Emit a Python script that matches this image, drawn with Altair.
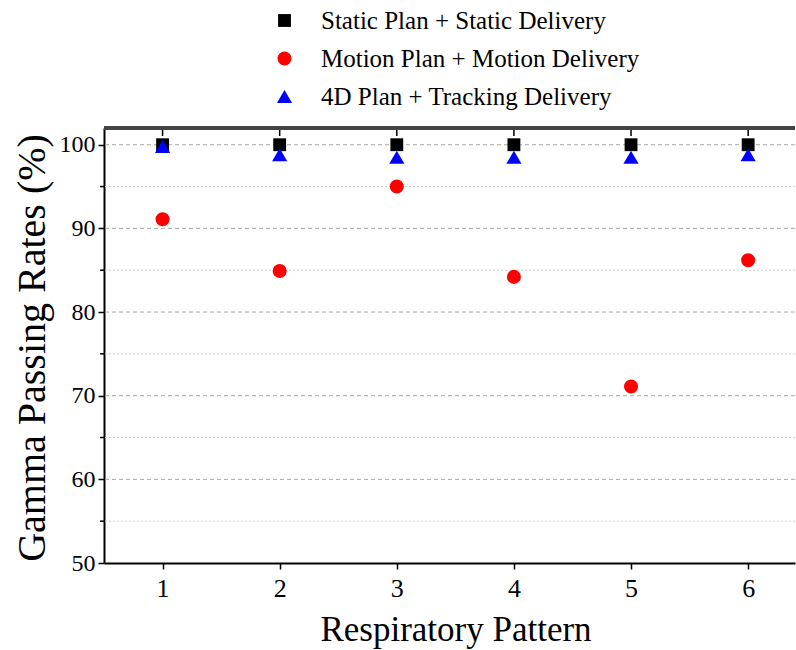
import altair as alt
import pandas as pd

# ---- data ----
patterns = [1, 2, 3, 4, 5, 6]
static_delivery = [100, 100, 100, 100, 100, 100]
motion_delivery = [91.1, 84.9, 95.0, 84.2, 71.1, 86.2]
tracking_delivery = [99.8, 98.8, 98.5, 98.5, 98.5, 98.8]

series_names = ["Static Plan + Static Delivery",
                "Motion Plan + Motion Delivery",
                "4D Plan + Tracking Delivery"]
series_shapes = ["square", "circle", "triangle-up"]
series_colors = ["black", "red", "blue"]

y_ticks = [50, 60, 70, 80, 90, 100]
major_grid = [60, 70, 80, 90, 100]
minor_grid = [55, 65, 75, 85, 95]

W, H = 691, 435
FONT = "Liberation Serif"

rows = []
for name, vals in zip(series_names, [static_delivery, motion_delivery, tracking_delivery]):
    for p, v in zip(patterns, vals):
        rows.append({"pattern": p, "rate": v, "series": name})
df = pd.DataFrame(rows)

xscale = alt.Scale(domain=[0.5, 6.4], nice=False, zero=False)
yscale = alt.Scale(domain=[50, 102], nice=False, zero=False)

xaxis = alt.Axis(values=patterns, format="d", title="Respiratory Pattern",
                 titleFontSize=35, titleFont=FONT, titleFontWeight="normal",
                 titleX=W / 2 + 6, titleY=77, titleBaseline="alphabetic",
                 labelFontSize=26, labelPadding=6)
yaxis = alt.Axis(values=y_ticks, format="d", title="Gamma Passing Rates (%)",
                 titleFontSize=40, titleFont=FONT, titleFontWeight="normal",
                 titleX=-52, titleY=H / 2 + 2, titleAngle=-90,
                 titleBaseline="bottom", titleAlign="center",
                 labelFontSize=24, labelPadding=3)

minor_df = pd.DataFrame({"v": minor_grid})
major_df = pd.DataFrame({"v": major_grid})
pat_df = pd.DataFrame({"pattern": patterns})

minor_lines = alt.Chart(minor_df).mark_rule(
    color="#cfcfcf", strokeWidth=1, strokeDash=[2, 2]
).encode(y=alt.Y("v:Q", scale=yscale, axis=yaxis, title="Gamma Passing Rates (%)"))

major_lines = alt.Chart(major_df).mark_rule(
    color="#a8a8a8", strokeWidth=1, strokeDash=[4, 3]
).encode(y=alt.Y("v:Q", scale=yscale, axis=yaxis, title="Gamma Passing Rates (%)"))

minor_ticks = alt.Chart(minor_df).mark_rule(color="black", strokeWidth=1.5).encode(
    y=alt.Y("v:Q", scale=yscale, axis=yaxis, title="Gamma Passing Rates (%)"),
    x=alt.value(-4), x2=alt.value(0),
)

top_border = alt.Chart(pat_df).mark_rule(color="#444444", strokeWidth=3).encode(
    x=alt.value(0), x2=alt.value(W), y=alt.value(0)
)

top_ticks = alt.Chart(pat_df).mark_rule(color="black", strokeWidth=1.5).encode(
    x=alt.X("pattern:Q", scale=xscale, axis=xaxis, title="Respiratory Pattern"),
    y=alt.value(0), y2=alt.value(8),
)

legend = alt.Legend(title=None, orient="none", legendX=168, legendY=-120)

points = alt.Chart(df).mark_point(filled=True, opacity=1, strokeWidth=0).encode(
    x=alt.X("pattern:Q", scale=xscale, axis=xaxis, title="Respiratory Pattern"),
    y=alt.Y("rate:Q", scale=yscale, axis=yaxis, title="Gamma Passing Rates (%)"),
    shape=alt.Shape("series:N", scale=alt.Scale(domain=series_names, range=series_shapes),
                    legend=legend),
    color=alt.Color("series:N", scale=alt.Scale(domain=series_names, range=series_colors),
                    legend=legend),
    size=alt.Size("series:N", scale=alt.Scale(domain=series_names, range=[165, 230, 290]),
                  legend=None),
    order=alt.Order("order:Q"),
).transform_calculate(
    order="indexof(['Static Plan + Static Delivery','Motion Plan + Motion Delivery','4D Plan + Tracking Delivery'], datum.series)"
)

chart = alt.layer(
    minor_lines, major_lines, points, minor_ticks, top_ticks, top_border
).properties(
    width=W, height=H,
    autosize=alt.AutoSizeParams(type="none"),
    padding={"left": 104, "top": 128, "right": 1, "bottom": 87},
    background="white",
).configure_view(
    stroke=None
).configure_axis(
    domainColor="black", domainWidth=2, tickColor="black", tickWidth=1.5, tickSize=6,
    grid=False, labelFont=FONT, labelColor="black", titleColor="black",
).configure_legend(
    labelFont=FONT, labelFontSize=25, labelColor="black", symbolSize=190,
    symbolStrokeWidth=0, rowPadding=12, labelOffset=24, labelLimit=500,
)

chart.save("out.html", embed_options={"renderer": "svg", "actions": False})
